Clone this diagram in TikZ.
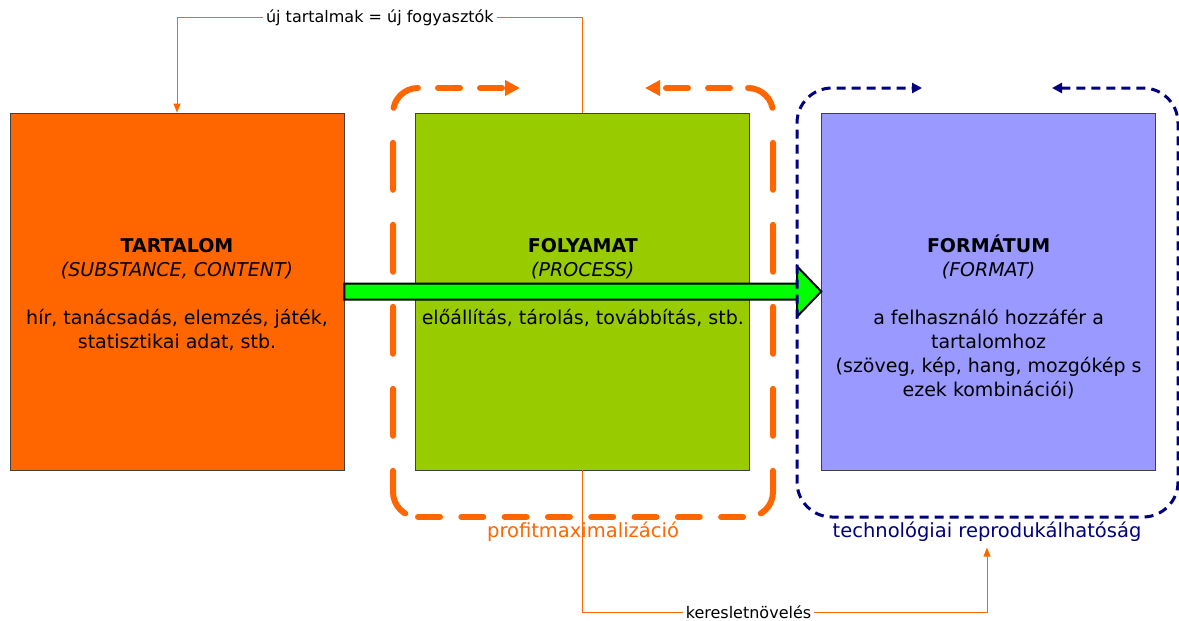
\documentclass[tikz,border=0pt]{standalone}
\usepackage{fontspec}
\setmainfont{DejaVu Sans}
\usetikzlibrary{positioning}
\usetikzlibrary{calc}
\usetikzlibrary{arrows.meta}
\definecolor{orange}{RGB}{255,102,0}
\definecolor{lime}{RGB}{153,204,0}
\definecolor{lilac}{RGB}{153,153,255}
\definecolor{navy}{RGB}{0,0,128}
\definecolor{neon}{RGB}{0,255,0}

\begin{document}
\begin{tikzpicture}[x=1pt, y=-1pt,
  box/.style={draw=black!75, line width=0.8pt, minimum width=334pt, minimum height=357pt, inner sep=0pt},
  boxtext/.style={align=center, anchor=base, inner sep=0pt, font=\fontsize{19}{24}\selectfont},
  odash/.style={orange, line width=6pt, line cap=round},
  bdash/.style={navy, line width=3pt, dash pattern=on 9pt off 6pt},
  feedback/.style={orange, line width=1pt},
  tag/.style={font=\fontsize{16}{19}\selectfont, text=black, fill=white, inner sep=3pt},
  looplabel/.style={font=\fontsize{19.5}{22}\selectfont, anchor=base}]

    \useasboundingbox (0,0) rectangle (1179,621);

    % draw boxes
    \node[box, fill=orange] (tartalom) at (177,291.5) {};
    \node[box, fill=lime, right=71pt of tartalom] (folyamat) {};
    \node[box, fill=lilac, right=71pt of folyamat] (formatum) {};

    % box texts (base = last line)
    \node[boxtext] (tartalomtext) at ($(tartalom.north)+(0,236)$)
      {\textbf{TARTALOM}\\\textit{(SUBSTANCE, CONTENT)}\\[24pt]hír, tanácsadás, elemzés, játék,\\statisztikai adat, stb.};
    \node[boxtext] (folyamattext) at ($(folyamat.north)+(0,212)$)
      {\textbf{FOLYAMAT}\\\textit{(PROCESS)}\\[24pt]előállítás, tárolás, továbbítás, stb.};
    \node[boxtext] (formatumtext) at ($(formatum.north)+(0,284)$)
      {\textbf{FORMÁTUM}\\\textit{(FORMAT)}\\[24pt]a felhasználó hozzáfér a\\tartalomhoz\\(szöveg, kép, hang, mozgókép s\\ezek kombinációi)};

    % big green arrow
    \draw[fill=neon, line width=2pt, line join=miter]
      ($(tartalom.east)+(0,-8)$) -- ($(formatum.west)+(-24,-8)$) -- ($(formatum.west)+(-24,-25)$)
      -- (formatum.west) -- ($(formatum.west)+(-24,25)$) -- ($(formatum.west)+(-24,8)$)
      -- ($(tartalom.east)+(0,8)$) -- cycle;

    % dashed loops
    \draw[odash, rounded corners=25pt, dash pattern=on 47pt off 35pt, dash phase=13pt]
      (418,88) -- (393,88) -- (393,517) -- (418,517);
    \draw[odash, rounded corners=25pt, dash pattern=on 47pt off 35pt, dash phase=13pt]
      (748,88) -- (773,88) -- (773,517) -- (748,517);
    \draw[odash, dash pattern=on 22pt off 21.3pt] (418,517) -- (748,517);
    \draw[odash, dash pattern=on 22pt off 20pt, -{Triangle[length=15pt,width=15pt]}] (438,88) -- (520,88);
    \draw[odash, dash pattern=on 22pt off 20pt, -{Triangle[length=15pt,width=15pt]}] (730,88) -- (645,88);
    \draw[bdash, rounded corners=35pt, {Triangle[length=10pt,width=10pt]}-{Triangle[length=10pt,width=10pt]}]
      (1052,88) -- (1178,88) -- (1178,517) -- (797,517) -- (797,88) -- (922,88);

    \node[looplabel, orange] (profitlabel) at (583,537) {profitmaximalizáció};
    \node[looplabel, navy] (reprolabel) at (987,537) {technológiai reprodukálhatóság};

    % feedback lines
    \coordinate (topturn) at ($(folyamat.north)+(0,-95)$);
    \coordinate (bottomturn) at ($(folyamat.south)+(0,142)$);
    \draw[feedback, -{Triangle[length=9pt,width=7pt]}] (folyamat.north) -- (topturn)
      -| node[tag, pos=0.25] {új tartalmak = új fogyasztók} (tartalom.north);
    \draw[feedback, -{Triangle[length=9pt,width=7pt]}] (folyamat.south) -- (bottomturn)
      -| node[tag, pos=0.205] {keresletnövelés} ([yshift=-3pt]reprolabel.south);

\end{tikzpicture}
\end{document}
